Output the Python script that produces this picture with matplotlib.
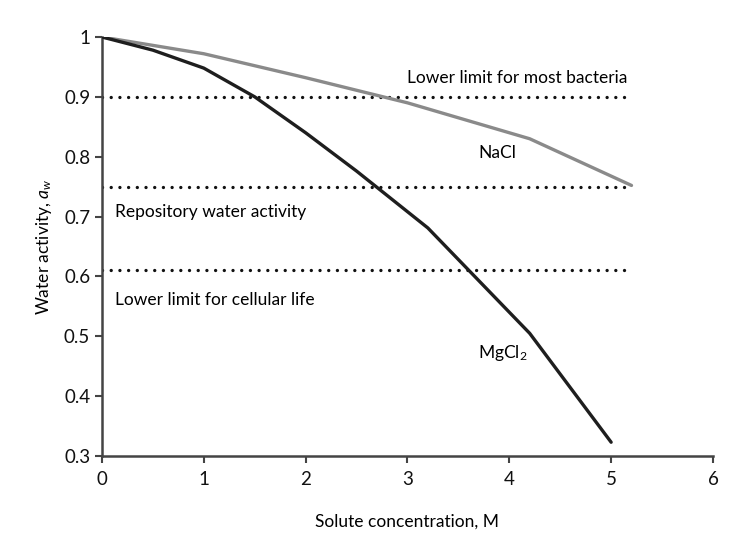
import matplotlib
matplotlib.use('Agg')
import matplotlib.pyplot as plt

# values
nacl_x = [0, 1, 2, 3, 4.2, 5.2]
nacl_aw = [1.0, 0.972, 0.932, 0.89, 0.83, 0.752]

mgcl2_x = [0, 0.5, 1, 1.5, 2, 2.5, 3.2, 4.2, 5]
mgcl2_aw = [1.0, 0.978, 0.948, 0.9, 0.84, 0.776, 0.681, 0.505, 0.323]

limit_names = ['Lower limit for most bacteria', 'Repository water activity',
               'Lower limit for cellular life']
limit_aw = [0.9, 0.75, 0.61]
limit_end = 5.2

xticks = [0, 1, 2, 3, 4, 5, 6]
yticks = [0.3, 0.4, 0.5, 0.6, 0.7, 0.8, 0.9, 1.0]
ytick_labels = ['0.3', '0.4', '0.5', '0.6', '0.7', '0.8', '0.9', '1']

plt.rcParams['font.family'] = ['Lato', 'DejaVu Sans']
plt.rcParams['mathtext.fontset'] = 'custom'
plt.rcParams['mathtext.rm'] = 'Lato'
plt.rcParams['mathtext.it'] = 'Lato:italic'

fig = plt.figure(figsize=(7.32, 5.48), dpi=100)
ax = fig.add_axes([0.1393, 0.1679, 0.8347, 0.7646])

for aw in limit_aw:
    ax.plot([0, limit_end], [aw, aw], color='#111111', lw=2.4,
            linestyle=(0, (0.01, 2.6)), dash_capstyle='round', zorder=2)

ax.plot(nacl_x, nacl_aw, color='#8a8a8a', lw=2.4, solid_capstyle='round', zorder=3)
ax.plot(mgcl2_x, mgcl2_aw, color='#1e1e1e', lw=2.4, solid_capstyle='round', zorder=4)

fs = 12.5
ax.text(4.08, 0.931, limit_names[0], ha='center', va='center', fontsize=fs)
ax.text(0.13, 0.708, limit_names[1], ha='left', va='center', fontsize=fs)
ax.text(0.13, 0.56, limit_names[2], ha='left', va='center', fontsize=fs)
ax.text(3.88, 0.806, 'NaCl', ha='center', va='center', fontsize=fs)
ax.text(3.69, 0.472, r'MgCl$_\mathregular{2}$', ha='left', va='center', fontsize=fs)

ax.set_xlim(0, 6)
ax.set_ylim(0.3, 1.0)
ax.set_xticks(xticks)
ax.set_yticks(yticks)
ax.set_yticklabels(ytick_labels)

for side in ['top', 'right']:
    ax.spines[side].set_visible(False)
for side in ['left', 'bottom']:
    ax.spines[side].set_color('#444444')
    ax.spines[side].set_linewidth(1.8)
ax.tick_params(axis='both', direction='out', length=5, width=1.5,
               colors='#444444', labelcolor='#111111', labelsize=fs + 1)
ax.tick_params(axis='x', pad=6)

ax.set_xlabel('Solute concentration, M', fontsize=fs, labelpad=18)
ax.set_ylabel(r'Water activity, $a_w$', fontsize=fs, labelpad=7)

plt.savefig('out.png', dpi=100)
plt.close()
